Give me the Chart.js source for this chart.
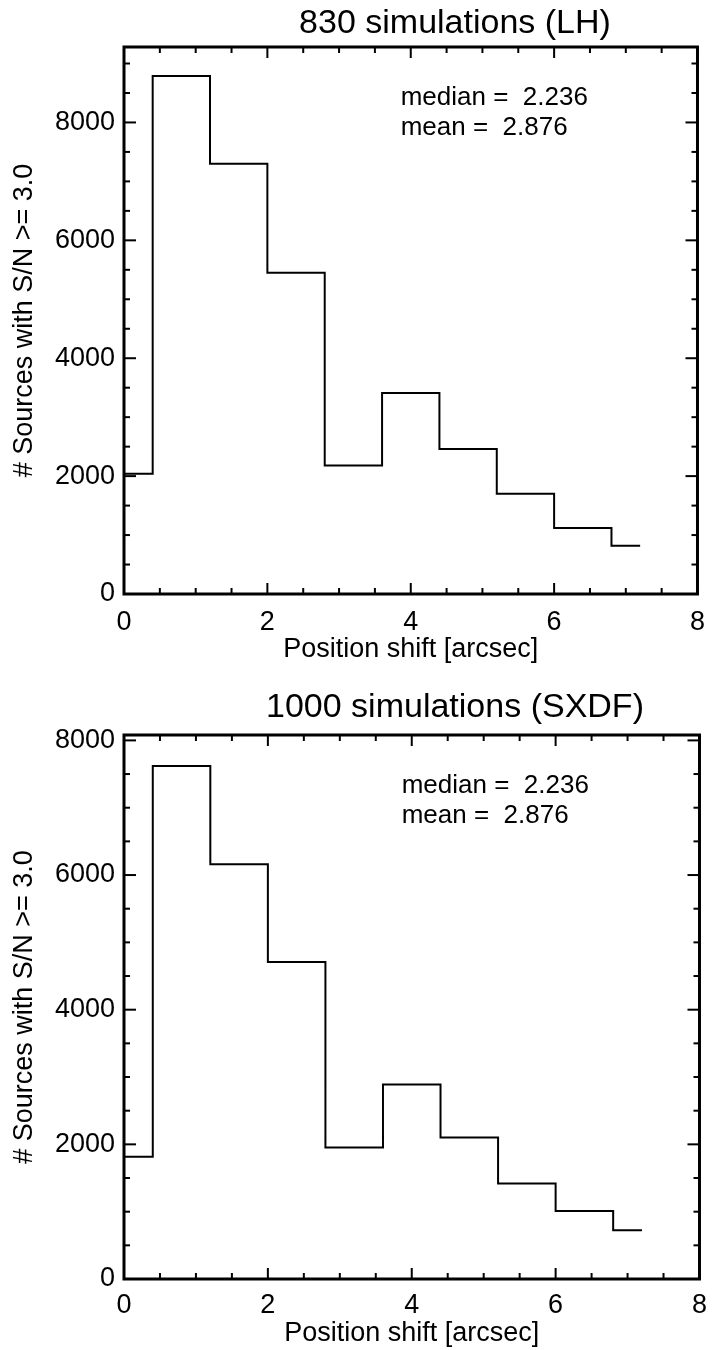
<!DOCTYPE html>
<html>
<head>
<meta charset="utf-8">
<script src="https://cdn.jsdelivr.net/npm/chart.js@4.4.1/dist/chart.umd.min.js"></script>
<style>
  html, body { margin: 0; padding: 0; background: #fff; }
  #wrap { position: relative; width: 717px; height: 1350px; }
  canvas { position: absolute; left: 0; }
</style>
</head>
<body>
<div id="wrap">
  <canvas id="lh" width="717" height="675" style="top:0"></canvas>
  <canvas id="sxdf" width="717" height="675" style="top:675px"></canvas>
</div>
<script>
// histogram bin centres (arcsec), drawn IDL psym=10 style
const shiftBins = [0, 0.8, 1.6, 2.4, 3.2, 4.0, 4.8, 5.6, 6.4, 7.2];
const countsLH = [2040, 8790, 7300, 5450, 2180, 3410, 2460, 1700, 1120, 820];
const countsSXDF = [1815, 7620, 6160, 4710, 1955, 2890, 2100, 1420, 1010, 725];
const xTicks = [0, 2, 4, 6, 8];
const yTicks = [0, 2000, 4000, 6000, 8000];
const statLines = ['median =  2.236', 'mean =  2.876'];

const FAMILY = '"Liberation Sans", Arial, Helvetica, sans-serif';
const labelFont = { family: FAMILY, size: 27 };

const panels = [
  { id: 'lh', title: '830 simulations (LH)', counts: countsLH, yMax: 9280,
    top: 47, axisH: 81, tickPad: 12, xTitlePad: 9, titleBase: 33 },
  { id: 'sxdf', title: '1000 simulations (SXDF)', counts: countsSXDF, yMax: 8080,
    top: 60, axisH: 71, tickPad: 10, xTitlePad: 0, titleBase: 42 }
];

// box frame, inward ticks on all four sides, title and stats text
const frame = {
  id: 'frame',
  afterDraw(chart, args, opts) {
    const { ctx, chartArea: a, scales: { x, y } } = chart;
    ctx.save();
    ctx.strokeStyle = '#000';
    ctx.lineWidth = 2;
    const seg = (x1, y1, x2, y2) => {
      ctx.beginPath(); ctx.moveTo(x1, y1); ctx.lineTo(x2, y2); ctx.stroke();
    };
    for (let v = 0; v <= x.max; v += 0.5) {
      const px = x.getPixelForValue(v);
      const len = v % 2 === 0 ? 11 : 6;
      seg(px, a.bottom, px, a.bottom - len);
      seg(px, a.top, px, a.top + len);
    }
    for (let v = 0; v <= y.max; v += 500) {
      const py = y.getPixelForValue(v);
      const len = v % 2000 === 0 ? 12 : 6;
      seg(a.left, py, a.left + len, py);
      seg(a.right, py, a.right - len, py);
    }
    ctx.lineWidth = 3;
    ctx.strokeRect(a.left, a.top, a.right - a.left, a.bottom - a.top);

    ctx.fillStyle = '#000';
    ctx.textBaseline = 'alphabetic';
    ctx.font = '34px ' + FAMILY;
    ctx.textAlign = 'center';
    ctx.fillText(opts.title, 455, opts.titleBase);

    ctx.font = '26px ' + FAMILY;
    ctx.textAlign = 'left';
    const sx = x.getPixelForValue(3.86);
    statLines.forEach((s, i) => ctx.fillText(s, sx, a.top + 58 + 30 * i));
    ctx.restore();
  }
};

panels.forEach(p => {
  new Chart(document.getElementById(p.id), {
    type: 'line',
    data: {
      datasets: [{
        data: shiftBins.map((s, i) => ({ x: s, y: p.counts[i] })),
        stepped: 'middle',
        borderColor: '#000',
        borderWidth: 2,
        pointRadius: 0,
        fill: false
      }]
    },
    options: {
      responsive: false,
      animation: false,
      layout: { padding: { top: p.top, right: 11, left: 0, bottom: 0 } },
      plugins: {
        legend: { display: false },
        tooltip: { enabled: false },
        frame: { title: p.title, titleBase: p.titleBase }
      },
      scales: {
        x: {
          type: 'linear', min: 0, max: 8,
          afterBuildTicks: s => { s.ticks = xTicks.map(v => ({ value: v })); },
          afterFit: s => { s.height = p.axisH; },
          grid: { display: false, drawTicks: false },
          border: { display: false },
          ticks: { font: labelFont, color: '#000', padding: p.tickPad, maxRotation: 0,
                   callback: v => String(v) },
          title: { display: true, text: 'Position shift [arcsec]', font: labelFont, color: '#000',
                   padding: { top: 0, bottom: p.xTitlePad } }
        },
        y: {
          type: 'linear', min: 0, max: p.yMax,
          afterBuildTicks: s => { s.ticks = yTicks.map(v => ({ value: v })); },
          afterFit: s => { s.width = 124; },
          grid: { display: false, drawTicks: false },
          border: { display: false },
          ticks: { font: labelFont, color: '#000', padding: 9, callback: v => String(v) },
          title: { display: true, text: '# Sources with S/N >= 3.0', font: labelFont, color: '#000',
                   padding: { top: 8, bottom: 0 } }
        }
      }
    },
    plugins: [frame]
  });
});
</script>
</body>
</html>
